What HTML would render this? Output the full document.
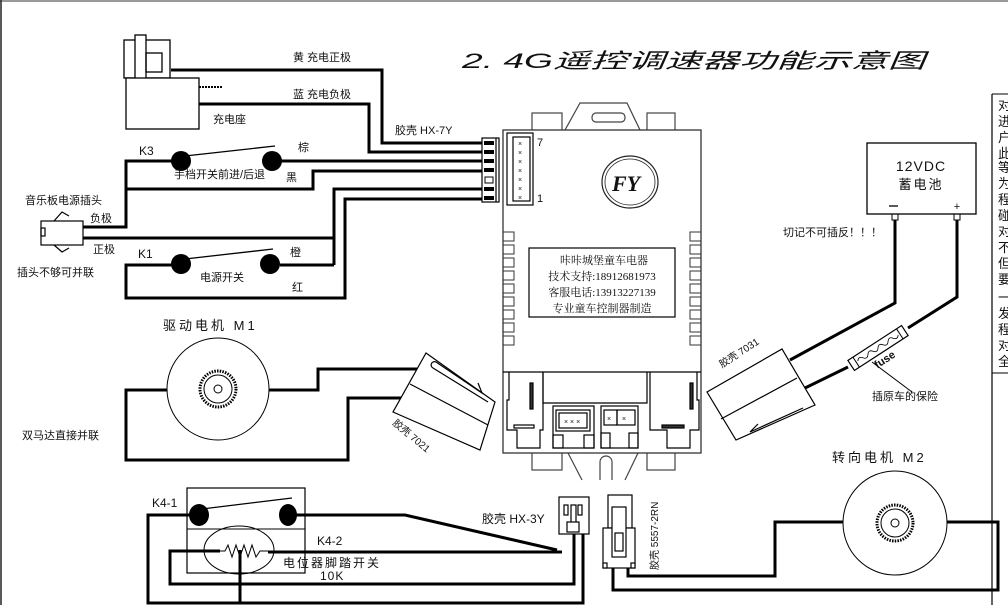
<!DOCTYPE html>
<html><head><meta charset="utf-8"><style>
html,body{margin:0;padding:0;background:#fff;}
svg{display:block;}
text{font-family:"Liberation Sans","Noto Sans CJK SC",sans-serif;fill:#111;}
.s{font-family:"Liberation Serif","Noto Serif CJK SC",serif;}
</style></head><body>
<svg width="1008" height="605" viewBox="0 0 1008 605" xmlns="http://www.w3.org/2000/svg">
<rect width="1008" height="605" fill="#fff"/>
<line x1="0" y1="1" x2="1008" y2="1" stroke="#999" stroke-width="2"/>
<line x1="1" y1="0" x2="1" y2="605" stroke="#222" stroke-width="1.5"/>

<text x="462" y="68" font-size="21" font-style="italic" textLength="463" lengthAdjust="spacingAndGlyphs" fill="#222">2. 4G遥控调速器功能示意图</text>

<g fill="none" stroke="#000" stroke-width="1.3">
<rect x="124" y="40" width="46" height="38"/>
<rect x="135" y="35" width="11" height="55" fill="#fff"/>
<rect x="146" y="53" width="16" height="19"/>
<rect x="126" y="78" width="73" height="51" fill="#fff"/>
</g>
<line x1="199" y1="87" x2="222" y2="87" stroke="#000" stroke-width="2" stroke-dasharray="2,1"/>
<g fill="none" stroke="#000" stroke-width="3">
<polyline points="171,70 382,70 382,143 484,143"/>
<polyline points="199,104 369,104 369,152 484,152"/>
<polyline points="178,161 126,161 126,227 83,227"/>
<polyline points="126,189 313,189 313,171 484,171"/>
<line x1="281" y1="161" x2="484" y2="161"/>
<polyline points="83,238 334,238"/>
<polyline points="334,265 334,189 484,189"/>
<polyline points="280,265 334,265"/>
<polyline points="172,265 126,265 126,298 345,298 345,199 484,199"/>
</g>
<g stroke="#000" stroke-width="1.2" fill="#fff">
<rect x="482" y="138" width="17" height="64"/>
<line x1="496" y1="138" x2="496" y2="202"/>
</g>
<g fill="#000">
<rect x="484" y="141" width="10" height="4"/><rect x="484" y="150" width="10" height="4"/>
<rect x="484" y="159" width="10" height="4"/><rect x="484" y="168" width="10" height="4"/>
<rect x="484" y="187" width="10" height="4"/><rect x="484" y="196" width="10" height="4"/>
</g>
<rect x="485" y="177" width="8" height="6" fill="#fff" stroke="#000"/>
<g fill="#000">
<circle cx="181" cy="161" r="10"/><circle cx="272" cy="161" r="10"/>
<circle cx="181" cy="264" r="10"/><circle cx="270" cy="264" r="10"/>
</g>
<g stroke="#000" stroke-width="1.3">
<line x1="185" y1="156" x2="275" y2="146"/>
<line x1="185" y1="259" x2="273" y2="249"/>
</g>
<g fill="none" stroke="#000" stroke-width="1.2">
<rect x="41" y="221" width="42" height="24"/>
<rect x="41" y="228" width="4" height="8"/>
<polyline points="54,221 62,212 69,216"/>
<polyline points="54,245 62,252 69,248"/>
</g>
<g font-size="11">
<text x="293" y="61">黄 充电正极</text>
<text x="293" y="98">蓝 充电负极</text>
<text x="213" y="123">充电座</text>
<text x="395" y="134">胶壳 HX-7Y</text>
<text x="139" y="155" font-size="12">K3</text>
<text x="174" y="178">手档开关前进/后退</text>
<text x="298" y="151">棕</text>
<text x="286" y="181">黑</text>
<text x="25" y="204">音乐板电源插头</text>
<text x="90" y="222">负极</text>
<text x="93" y="253">正极</text>
<text x="17" y="276">插头不够可并联</text>
<text x="138" y="258" font-size="12">K1</text>
<text x="200" y="281">电源开关</text>
<text x="290" y="256">橙</text>
<text x="292" y="291">红</text>
</g>

<g fill="none" stroke="#444" stroke-width="1.2">
<rect x="532" y="113" width="30" height="20"/>
<rect x="647" y="113" width="28" height="20"/>
<polyline points="565,130 580,103 627,103 640,130"/>
<rect x="592" y="113" width="33" height="9" rx="4"/>
<rect x="532" y="450" width="30" height="20"/>
<rect x="647" y="450" width="28" height="20"/>
<polyline points="568,453 582,480"/>
<polyline points="638,453 625,480"/>
<path d="M600,480 V462 a6,6 0 0 1 12,0 V480"/>
</g>
<rect x="503" y="130" width="198" height="323" fill="#fff" stroke="#333" stroke-width="1.3"/>
<g fill="none" stroke="#000" stroke-width="1.2">
<rect x="507" y="133" width="26" height="72"/>
<rect x="513" y="137" width="17" height="64"/>
</g>
<g font-size="7" fill="#000"><text x="518" y="146">×</text><text x="518" y="155">×</text><text x="518" y="164">×</text><text x="518" y="173">×</text><text x="518" y="182">×</text><text x="518" y="191">×</text><text x="518" y="200">×</text></g>
<text x="537" y="146" font-size="11">7</text>
<text x="537" y="202" font-size="11">1</text>
<ellipse cx="630" cy="182" rx="28" ry="26" fill="none" stroke="#222" stroke-width="1.2"/>
<ellipse cx="630" cy="182" rx="25" ry="23" fill="none" stroke="#222" stroke-width="0.8"/>
<text x="612" y="191" font-size="22" font-style="italic" font-weight="bold" class="s">FY</text>
<rect x="529" y="248" width="146" height="69" fill="none" stroke="#000" stroke-width="1.2"/>
<g font-size="11" text-anchor="middle">
<text x="604" y="264" class="s">咔咔城堡童车电器</text>
<text x="602" y="280" class="s">技术支持:18912681973</text>
<text x="602" y="296" class="s">客服电话:13913227139</text>
<text x="602" y="312" class="s">专业童车控制器制造</text>
</g>
<g fill="none" stroke="#333" stroke-width="1">
<path d="M503,232h11v9h-11 M503,245h11v9h-11 M503,258h11v9h-11 M503,271h11v9h-11 M503,284h11v9h-11 M503,297h11v9h-11 M503,310h11v9h-11 M503,323h11v9h-11 M503,336h11v9h-11"/>
<path d="M701,232h-11v9h11 M701,245h-11v9h11 M701,258h-11v9h11 M701,271h-11v9h11 M701,284h-11v9h11 M701,297h-11v9h11 M701,310h-11v9h11 M701,323h-11v9h11 M701,336h-11v9h11"/>
</g>
<g fill="none" stroke="#000" stroke-width="1.2">
<line x1="503" y1="372" x2="701" y2="372"/>
<polyline points="543,372 543,403 647,403 647,372"/>
<polyline points="509,372 509,400 507,400 507,430 517,430 517,448 540,448 540,430 543,430 543,372"/>
<polyline points="697,372 697,400 699,400 699,430 690,430 690,448 667,448 667,430 650,430 650,372"/>
<rect x="530" y="383" width="3" height="26" fill="#333"/>
<rect x="514" y="425" width="20" height="3" fill="#fff"/>
<rect x="690" y="383" width="3" height="26" fill="#333"/>
<rect x="662" y="425" width="22" height="3" fill="#333"/>
<rect x="553" y="406" width="41" height="42"/>
<rect x="556" y="410" width="34" height="21"/>
<rect x="559" y="413" width="28" height="15"/>
<rect x="553" y="435" width="10" height="13"/><rect x="584" y="435" width="10" height="13"/>
<rect x="601" y="406" width="37" height="42"/>
<rect x="604" y="410" width="13" height="15"/><rect x="617" y="410" width="18" height="15"/>
<rect x="601" y="433" width="9" height="15"/><rect x="629" y="433" width="9" height="15"/>
</g>
<g font-size="7"><text x="564" y="424">× × ×</text><text x="607" y="421">×</text><text x="622" y="421">×</text></g>

<rect x="867" y="143" width="109" height="71" fill="#fff" stroke="#000" stroke-width="1.3"/>
<text x="921" y="171" font-size="14" text-anchor="middle" letter-spacing="1">12VDC</text>
<text x="921" y="189" font-size="13" text-anchor="middle" letter-spacing="2">蓄电池</text>
<line x1="889" y1="206" x2="898" y2="206" stroke="#000" stroke-width="1.3"/>
<text x="957" y="210" font-size="11" text-anchor="middle">+</text>
<rect x="892" y="214" width="6" height="6" fill="none" stroke="#000"/>
<rect x="954" y="214" width="6" height="6" fill="none" stroke="#000"/>
<g fill="none" stroke="#000" stroke-width="3">
<polyline points="895,220 895,303 790,360"/>
<polyline points="957,220 957,297 908,328"/>
<line x1="848" y1="367" x2="805" y2="388"/>
</g>
<g transform="translate(878,348) rotate(-33)">
<rect x="-32" y="-6" width="64" height="12" fill="#fff" stroke="#000" stroke-width="1.2"/>
<line x1="-26" y1="-6" x2="-26" y2="6" stroke="#000"/><line x1="26" y1="-6" x2="26" y2="6" stroke="#000"/>
<path d="M-24,0 q3,-4 6,0 t6,0 t6,0 t6,0 t6,0 t6,0 t6,0 t6,0" fill="none" stroke="#000" stroke-width="0.8"/>
<text x="-12" y="17" font-size="11" font-weight="bold">fuse</text>
</g>
<line x1="872" y1="362" x2="912" y2="392" stroke="#000"/>
<text x="872" y="400" font-size="11">插原车的保险</text>
<text x="783" y="236" font-size="11">切记不可插反！！！</text>
<g fill="#fff" stroke="#000" stroke-width="1.2">
<polygon points="707,392 782,349 815,405 736,440"/>
<line x1="721" y1="419" x2="797" y2="378"/>
<polyline points="803,408 750,432 758,424 M750,432 756,435" fill="none"/>
</g>
<text x="722" y="368" font-size="10" transform="rotate(-33 722 368)">胶壳 7031</text>
<text x="832" y="462" font-size="13" letter-spacing="3">转向电机 M2</text>

<line x1="992" y1="94" x2="992" y2="605" stroke="#000" stroke-width="1.2"/>
<line x1="992" y1="94" x2="1008" y2="94" stroke="#000"/>
<line x1="992" y1="373" x2="1008" y2="373" stroke="#000"/>
<g font-size="13" fill="#222">
<text x="998" y="110">对</text><text x="998" y="126">进</text><text x="998" y="142">户</text><text x="998" y="158">此</text><text x="998" y="172">等</text><text x="998" y="188">为</text><text x="998" y="204">程</text><text x="998" y="220">碰</text><text x="998" y="236">对</text><text x="998" y="252">不</text><text x="998" y="268">但</text><text x="998" y="284">要</text><text x="998" y="302">一</text><text x="998" y="318">发</text><text x="998" y="334">程</text><text x="998" y="350">对</text><text x="998" y="366">全</text>
</g>

<circle cx="895" cy="523" r="52" fill="#fff" stroke="#000" stroke-width="1"/>
<circle cx="895" cy="523" r="18" fill="none" stroke="#000" stroke-width="3" stroke-dasharray="1.5,1.2"/>
<circle cx="895" cy="523" r="14" fill="none" stroke="#000"/>
<circle cx="895" cy="523" r="4" fill="none" stroke="#000"/>
<g fill="none" stroke="#000" stroke-width="3">
<polyline points="843,522 775,522 775,576 628,576 628,566"/>
<polyline points="947,522 998,522 998,590 613,590 613,566"/>
</g>
<g fill="#fff" stroke="#000" stroke-width="1.2">
<rect x="608" y="495" width="24" height="33"/>
<rect x="603" y="528" width="32" height="40"/>
<rect x="612" y="507" width="14" height="50"/>
<rect x="615" y="533" width="8" height="18"/>
<rect x="603" y="563" width="4" height="5"/><rect x="631" y="563" width="4" height="5"/>
</g>
<text x="658" y="570" font-size="10" transform="rotate(-90 658 570)">胶壳  5557-2RN</text>

<text x="163" y="330" font-size="13" letter-spacing="3">驱动电机 M1</text>
<circle cx="218" cy="389" r="51" fill="#fff" stroke="#000"/>
<circle cx="218" cy="389" r="18" fill="none" stroke="#000" stroke-width="3" stroke-dasharray="1.5,1.2"/>
<circle cx="218" cy="389" r="14" fill="none" stroke="#000"/>
<circle cx="218" cy="389" r="4" fill="none" stroke="#000"/>
<g fill="none" stroke="#000" stroke-width="3">
<polyline points="167,390 126,390 126,460 348,460 348,398 405,398"/>
<polyline points="269,390 318,390 318,369 418,369"/>
</g>
<text x="22" y="439" font-size="11">双马达直接并联</text>
<g fill="#fff" stroke="#000" stroke-width="1.2">
<polygon points="426,353 495,402 480,450 393,412"/>
<line x1="410" y1="384" x2="488" y2="425"/>
<path d="M436,362 L482,393 L478,383 M436,362 a3,3 0 0 0 -3,6 L488,402" fill="none"/>
</g>
<text x="392" y="424" font-size="10" transform="rotate(40 392 424)">胶壳 7021</text>

<rect x="187" y="488" width="118" height="85" fill="none" stroke="#000" stroke-width="1.2"/>
<line x1="187" y1="529" x2="305" y2="529" stroke="#000"/>
<ellipse cx="239" cy="550" rx="35" ry="24" fill="none" stroke="#000"/>
<polyline points="220,551 225,551 228,545 232,557 236,545 240,557 244,545 248,557 252,545 256,557 260,551 268,551" fill="none" stroke="#000"/>
<g fill="none" stroke="#000" stroke-width="3">
<polyline points="199,515 148,515 148,603 583,603 583,532"/>
<polyline points="288,515 405,515 557,550"/>
<line x1="268" y1="552" x2="562" y2="552"/>
<polyline points="220,551 170,551 170,584 574,584 574,532"/>
<line x1="240" y1="550" x2="240" y2="603"/>
</g>
<g fill="#000"><ellipse cx="199" cy="515" rx="10" ry="11"/><ellipse cx="288" cy="515" rx="9" ry="11"/></g>
<line x1="202" y1="509" x2="292" y2="498" stroke="#000" stroke-width="1.2"/>
<g fill="#fff" stroke="#000" stroke-width="1.2">
<rect x="559" y="497" width="30" height="37"/>
<rect x="564" y="505" width="4" height="10"/><rect x="578" y="505" width="4" height="10"/>
<rect x="571" y="505" width="5" height="24"/>
<rect x="567" y="522" width="12" height="10"/>
</g>
<g font-size="12">
<text x="152" y="507">K4-1</text>
<text x="317" y="545">K4-2</text>
<text x="283" y="567" letter-spacing="2">电位器脚踏开关</text>
<text x="320" y="580" letter-spacing="1">10K</text>
<text x="482" y="523">胶壳 HX-3Y</text>
</g>
</svg>
</body></html>
